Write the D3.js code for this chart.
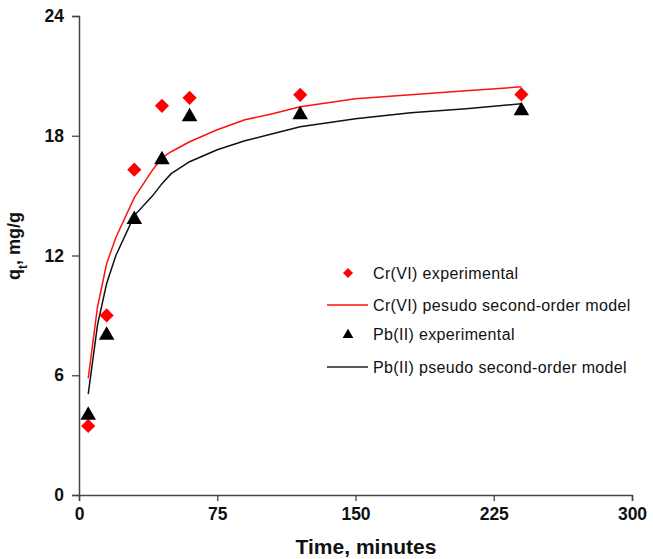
<!DOCTYPE html>
<html>
<head>
<meta charset="utf-8">
<script src="https://cdn.jsdelivr.net/npm/d3@7"></script>
<style>
  body { margin: 0; background: #fff; }
  text { font-family: Arial, "Liberation Sans", sans-serif; }
</style>
</head>
<body>
<div id="chart"></div>
<script>
// experimental points
var expTime = [5, 15, 30, 45, 60, 120, 240];
var crExp = [3.46, 9.0, 16.3, 19.5, 19.9, 20.05, 20.07];
var pbExp = [4.0, 8.0, 13.8, 16.8, 18.95, 19.05, 19.25];

// model curves
var modelTime = [5, 10, 15, 20, 30, 40, 45, 50, 60, 75, 90, 105, 120, 150, 180, 210, 240];
var crModel = [5.85, 9.4, 11.6, 12.9, 14.9, 16.3, 16.9, 17.2, 17.7, 18.3, 18.8, 19.1, 19.45, 19.85, 20.05, 20.25, 20.45];
var pbModel = [5.05, 8.5, 10.6, 12.0, 14.0, 15.0, 15.6, 16.1, 16.7, 17.3, 17.75, 18.1, 18.45, 18.85, 19.15, 19.35, 19.6];

var xTicks = [0, 75, 150, 225, 300];
var yTicks = [0, 6, 12, 18, 24];

var legendLabels = [
    "Cr(VI) experimental",
    "Cr(VI) pesudo second-order model",
    "Pb(II) experimental",
    "Pb(II) pseudo second-order model"
];

var width = 653, height = 559;
var margin = { top: 16, right: 21, bottom: 64, left: 79 };

var svg = d3.select("#chart").append("svg")
    .attr("width", width)
    .attr("height", height);

var x = d3.scaleLinear().domain([0, 300]).range([margin.left, width - margin.right]);
var y = d3.scaleLinear().domain([0, 24]).range([height - margin.bottom, margin.top]);

function translation(a, b) { return "translate(" + a + "," + b + ")"; }

// AXES
var xAxis = svg.append("g")
    .attr("transform", translation(0, y(0)))
    .call(d3.axisBottom(x).tickValues(xTicks).tickSizeOuter(0).tickSize(6).tickPadding(7));
var yAxis = svg.append("g")
    .attr("transform", translation(x(0), 0))
    .call(d3.axisLeft(y).tickValues(yTicks).tickSizeOuter(0).tickSize(7).tickPadding(8));

[xAxis, yAxis].forEach(function (g) {
    g.select(".domain").attr("stroke", "#444").attr("stroke-width", 1.5);
    g.selectAll(".tick line").attr("stroke", "#444").attr("stroke-width", 1.3);
    g.selectAll(".tick text")
        .attr("fill", "#111")
        .style("font-size", "17.5px")
        .style("font-weight", "bold")
        .style("font-family", "Arial, 'Liberation Sans', sans-serif");
});

// axis titles
svg.append("text")
    .attr("x", 366).attr("y", 554)
    .attr("text-anchor", "middle")
    .style("font-size", "21px").style("font-weight", "bold")
    .attr("fill", "#111")
    .text("Time, minutes");

var yTitle = svg.append("text")
    .attr("transform", translation(20, 246) + " rotate(-90)")
    .attr("text-anchor", "middle")
    .style("font-size", "18px").style("font-weight", "bold")
    .attr("fill", "#111");
yTitle.append("tspan").text("q");
yTitle.append("tspan").attr("baseline-shift", "sub").style("font-size", "12px").text("t");
yTitle.append("tspan").text(", mg/g");

// MODEL LINES
var line = d3.line()
    .x(function (d) { return x(d[0]); })
    .y(function (d) { return y(d[1]); });

svg.append("path")
    .datum(d3.zip(modelTime, crModel))
    .attr("fill", "none").attr("stroke", "#ff1010").attr("stroke-width", 1.5)
    .attr("d", line);
svg.append("path")
    .datum(d3.zip(modelTime, pbModel))
    .attr("fill", "none").attr("stroke", "#111").attr("stroke-width", 1.5)
    .attr("d", line);

// EXPERIMENTAL POINTS
var diamond = d3.symbol().type(d3.symbolSquare).size(100);
var triangle = d3.symbol().type(d3.symbolTriangle).size(105);

svg.selectAll(".cr").data(d3.zip(expTime, crExp)).enter()
    .append("path").attr("class", "cr")
    .attr("d", diamond)
    .attr("fill", "#ff0000")
    .attr("transform", function (d) { return translation(x(d[0]), y(d[1])) + " rotate(45)"; });

svg.selectAll(".pb").data(d3.zip(expTime, pbExp)).enter()
    .append("path").attr("class", "pb")
    .attr("d", triangle)
    .attr("fill", "#000")
    .attr("transform", function (d) { return translation(x(d[0]), y(d[1])); });

// LEGEND
var legendY = [273, 305, 334, 367];
var legend = svg.append("g");
legendLabels.forEach(function (lab, i) {
    var ly = legendY[i];
    if (i === 0) {
        legend.append("path").attr("d", d3.symbol().type(d3.symbolSquare).size(50))
            .attr("fill", "#ff0000")
            .attr("transform", translation(348, ly) + " rotate(45)");
    } else if (i === 2) {
        legend.append("path").attr("d", d3.symbol().type(d3.symbolTriangle).size(50))
            .attr("fill", "#000")
            .attr("transform", translation(348, ly + 1));
    } else {
        legend.append("line")
            .attr("x1", 327).attr("x2", 368).attr("y1", ly).attr("y2", ly)
            .attr("stroke", i === 1 ? "#ff1010" : "#222").attr("stroke-width", 1.3);
    }
    legend.append("text")
        .attr("x", 373).attr("y", ly).attr("dy", "0.35em")
        .style("font-size", "16px")
        .style("letter-spacing", "0.35px")
        .attr("fill", "#111")
        .text(lab);
});
</script>
</body>
</html>
